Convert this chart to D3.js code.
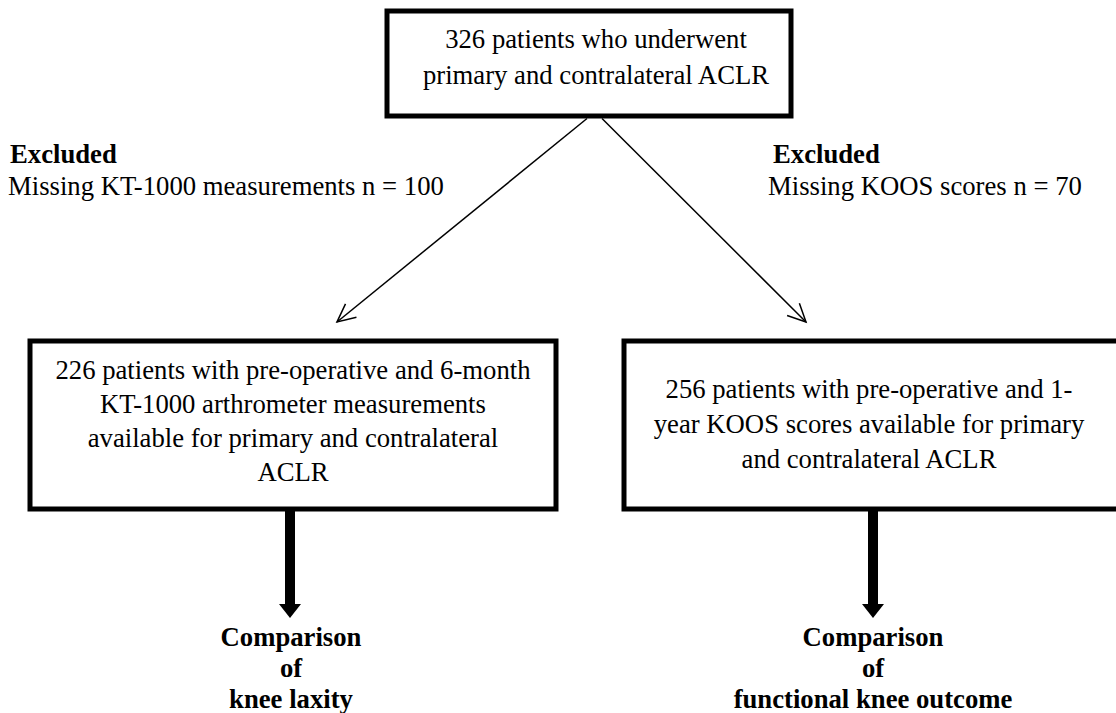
<!DOCTYPE html>
<html>
<head>
<meta charset="utf-8">
<script src="https://cdn.jsdelivr.net/npm/d3@7"></script>
<style>
  html, body { margin: 0; padding: 0; background: #fff; }
  svg { display: block; }
</style>
</head>
<body>
<svg id="chart" width="1116" height="713"></svg>
<script>
// text content of the flow diagram
const topLines = ["326 patients who underwent", "primary and contralateral ACLR"];
const leftLines = ["226 patients with pre-operative and 6-month",
    "KT-1000 arthrometer measurements",
    "available for primary and contralateral",
    "ACLR"];
const rightLines = ["256 patients with pre-operative and 1-",
    "year KOOS scores available for primary",
    "and contralateral ACLR"];
const excludedLeft = ["Excluded", "Missing KT-1000 measurements n = 100"];
const excludedRight = ["Excluded", "Missing KOOS scores n = 70"];
const outcomeLeft = ["Comparison", "of", "knee laxity"];
const outcomeRight = ["Comparison", "of", "functional knee outcome"];

const fontFamily = "'Liberation Serif', 'Times New Roman', serif";
const fontSize = "26.7px";

const svg = d3.select("#chart");

// layout
const layout = {
    top:   { x0: 387, y0: 11, x1: 791, y1: 116, cx: 596, y: 48, lh: 36 },
    left:  { x0: 30, y0: 341, x1: 556, y1: 509, cx: 293, y: 379, lh: 34 },
    right: { x0: 624, y0: 341, x1: 1119, y1: 509, cx: 869, y: 398, lh: 35 }
};

function box(b, lines) {
    svg.append("rect")
        .attr("x", b.x0).attr("y", b.y0)
        .attr("width", b.x1 - b.x0).attr("height", b.y1 - b.y0)
        .attr("fill", "none")
        .attr("stroke", "#000")
        .attr("stroke-width", 5);

    svg.append("g")
        .selectAll("text")
        .data(lines).enter()
        .append("text")
        .attr("x", b.cx)
        .attr("y", (d, i) => b.y + i * b.lh)
        .attr("text-anchor", "middle")
        .style("font-family", fontFamily)
        .style("font-size", fontSize)
        .text(d => d);
}

box(layout.top, topLines);
box(layout.left, leftLines);
box(layout.right, rightLines);

function block(lines, x, y, lh, anchor, boldFirst, allBold) {
    svg.append("g")
        .selectAll("text")
        .data(lines).enter()
        .append("text")
        .attr("x", (d, i) => Array.isArray(x) ? x[i] : x)
        .attr("y", (d, i) => y + i * lh)
        .attr("text-anchor", anchor)
        .style("font-family", fontFamily)
        .style("font-size", fontSize)
        .style("font-weight", (d, i) => (allBold || (boldFirst && i === 0)) ? "bold" : "normal")
        .text(d => d);
}

block(excludedLeft, [10, 8], 163, 32, "start", true, false);
block(excludedRight, [773, 768], 163, 32, "start", true, false);
block(outcomeLeft, 291, 646, 31, "middle", false, true);
block(outcomeRight, 873, 646, 31, "middle", false, true);

// thin diagonal arrows with open heads
function thinArrow(x1, y1, x2, y2) {
    svg.append("line")
        .attr("x1", x1).attr("y1", y1)
        .attr("x2", x2).attr("y2", y2)
        .attr("stroke", "#000")
        .attr("stroke-width", 1.5);

    const a = Math.atan2(y2 - y1, x2 - x1);
    const len = 20, spread = Math.PI / 7;
    const pts = [
        [x2 - len * Math.cos(a - spread), y2 - len * Math.sin(a - spread)],
        [x2, y2],
        [x2 - len * Math.cos(a + spread), y2 - len * Math.sin(a + spread)]
    ];
    svg.append("path")
        .attr("d", d3.line()(pts))
        .attr("fill", "none")
        .attr("stroke", "#000")
        .attr("stroke-width", 1.5);
}

thinArrow(587, 118.5, 337, 322);
thinArrow(602, 118.5, 806, 322);

// thick down arrows
function thickArrow(cx, yTop, yTip) {
    const shaftW = 10, headW = 22, headH = 14;
    svg.append("rect")
        .attr("x", cx - shaftW / 2).attr("y", yTop)
        .attr("width", shaftW).attr("height", yTip - headH - yTop + 1)
        .attr("fill", "#000");
    svg.append("path")
        .attr("d", d3.line()([[cx - headW / 2, yTip - headH], [cx + headW / 2, yTip - headH], [cx, yTip]]) + "Z")
        .attr("fill", "#000");
}

thickArrow(290, 509, 618);
thickArrow(873, 509, 618);
</script>
</body>
</html>
